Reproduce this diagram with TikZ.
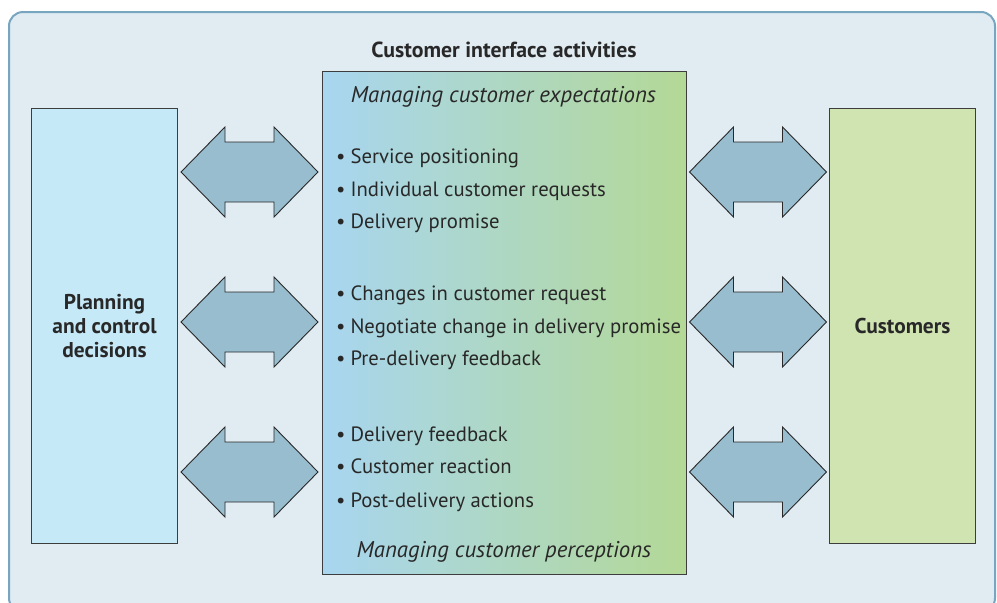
\documentclass[tikz,border=0pt]{standalone}
\usepackage{fontspec}
\setmainfont{PT Sans}
\definecolor{bgfill}{RGB}{224,235,242}
\definecolor{bgline}{RGB}{120,166,192}
\definecolor{leftfill}{RGB}{198,233,248}
\definecolor{rightfill}{RGB}{208,228,178}
\definecolor{gradl}{RGB}{168,214,240}
\definecolor{gradr}{RGB}{180,216,150}
\definecolor{arrfill}{RGB}{152,189,206}
\definecolor{ink}{RGB}{40,40,40}
\begin{document}
\begin{tikzpicture}[x=1pt,y=-1pt,
  box/.style={draw=ink!90,line width=1pt},
  item/.style={anchor=base west,inner sep=0pt,font=\fontsize{20.7}{24}\selectfont,text=ink},
  head/.style={anchor=base,inner sep=0pt,font=\fontsize{22.8}{24}\selectfont\itshape,text=ink},
  label/.style={align=center,inner sep=0pt,font=\fontsize{21.4}{24}\selectfont\bfseries,text=ink},
  dblarrow/.pic={\draw[fill=arrfill,draw=ink,line width=0.9pt,line join=miter]
     (-68.5,0) -- (-24.5,-45) -- (-24.5,-30) -- (24.5,-30) -- (24.5,-45) -- (68.5,0)
     -- (24.5,45) -- (24.5,30) -- (-24.5,30) -- (-24.5,45) -- cycle;}]
\useasboundingbox (0,0) rectangle (997,603);
\draw[fill=bgfill,draw=bgline,line width=2pt,rounded corners=14pt] (9,12) rectangle (995,612);
% boxes
\node[box,fill=leftfill,minimum width=146pt,minimum height=435pt,anchor=north west,inner sep=0pt] (plan) at (31,108) {};
\node[box,fill=rightfill,minimum width=146pt,minimum height=435pt,anchor=north west,inner sep=0pt] (cust) at (829,108) {};
\shade[left color=gradl,right color=gradr] (322,71) rectangle (686,574);
\node[box,minimum width=364pt,minimum height=503pt,anchor=north west,inner sep=0pt] (mid) at (322,71) {};
% labels
\node[label] (plantext) at (plan.center) {Planning\\and control\\decisions};
\node[label] (custtext) at (cust.center) {Customers};
\node[anchor=base,inner sep=0pt,font=\fontsize{21.8}{24}\selectfont\bfseries,text=ink] (title) at (504,57) {Customer interface activities};
\node[head] (exp) at (503.5,102) {Managing customer expectations};
\node[head] (perc) at (504,557) {Managing customer perceptions};
% items
\node[item] (i1) at (336,163) {\textbullet\hspace{5pt}Service positioning};
\node[item] (i2) at (336,196) {\textbullet\hspace{5pt}Individual customer requests};
\node[item] (i3) at (336,228) {\textbullet\hspace{5pt}Delivery promise};
\node[item] (i4) at (336,300) {\textbullet\hspace{5pt}Changes in customer request};
\node[item] (i5) at (336,333) {\textbullet\hspace{5pt}Negotiate change in delivery promise};
\node[item] (i6) at (336,365) {\textbullet\hspace{5pt}Pre-delivery feedback};
\node[item] (i7) at (336,441) {\textbullet\hspace{5pt}Delivery feedback};
\node[item] (i8) at (336,473) {\textbullet\hspace{5pt}Customer reaction};
\node[item] (i9) at (336,507) {\textbullet\hspace{5pt}Post-delivery actions};
% arrows
\pic at (249.5,172) {dblarrow};
\pic at (249.5,322) {dblarrow};
\pic at (249.5,472) {dblarrow};
\pic at (758,172) {dblarrow};
\pic at (758,322) {dblarrow};
\pic at (758,472) {dblarrow};
\end{tikzpicture}
\end{document}
